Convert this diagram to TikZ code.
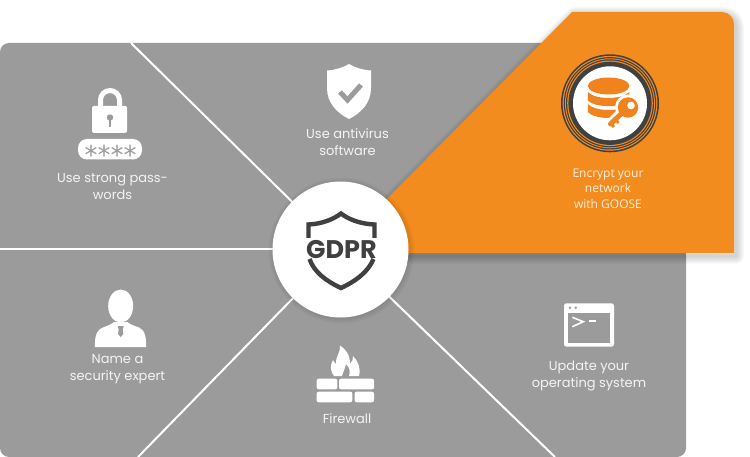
\documentclass[tikz,border=0pt]{standalone}
\usepackage{fontspec}
\setmainfont{Poppins}
\newfontfamily\encfont{Open Sans}
\newfontfamily\starfont{DejaVu Sans}
\definecolor{panelgray}{HTML}{9B9B9B}
\definecolor{goose}{HTML}{F28C1E}
\definecolor{iconorange}{HTML}{F0831E}
\definecolor{ink}{HTML}{404040}
\definecolor{soft}{HTML}{F4F4F4}
\tikzset{
  lbl/.style={text=soft,align=center,inner sep=0pt,font=\fontsize{13}{17}\selectfont},
  sep/.style={draw=white,line width=2pt},
  iconw/.style={fill=white,draw=none},
  icong/.style={fill=panelgray,draw=none},
  icono/.style={fill=iconorange,draw=none},
  keyline/.style={draw=iconorange}
}
\begin{document}
\begin{tikzpicture}[x=1pt,y=-1pt]
\useasboundingbox (0,0) rectangle (750,457);
% panel
\fill[panelgray,rounded corners=9pt] (0,43) -- (686,43) -- (686,457) -- (0,457) -- cycle;
% separators
\coordinate (a1) at (131,43);
\coordinate (a2) at (0,249.5);
\coordinate (a3) at (138,457);
\coordinate (a4) at (555,457);
\node[circle,minimum size=136pt,inner sep=0pt] (hub) at (340.5,249.5) {};
\draw[sep] (a1) -- (hub.center);
\draw[sep] (a2) -- (hub.center);
\draw[sep] (a3) -- (hub.center);
\draw[sep] (a4) -- (hub.center);
% orange shadow
\foreach \w in {2,4,...,16}{
  \draw[black,opacity=.022,line width=\w pt,line join=round,shift={(2,3)}]
    (572,12) -- (722,12) arc[start angle=-90,end angle=0,radius=12] -- (734,253) -- (340,253) -- (340,246) -- cycle;
}
% orange panel
\fill[goose] (572,12) -- (722,12) arc[start angle=-90,end angle=0,radius=12] -- (734,253) -- (340,253) -- (340,246) -- cycle;
% hub shadow
\foreach \r in {69,70,...,73}{
  \fill[black,opacity=.018] (341.5,250.5) circle[radius=\r];
}
\fill[white] (hub.center) circle[radius=68];
% GDPR shield
\draw[ink,line width=4.4pt,line join=miter] (308.5,238) -- (308.5,224.5) .. controls (322,224) and (334,219) .. (341,213.5) .. controls (348,219) and (360,224) .. (374.5,224.5) -- (374.5,238);
\draw[ink,line width=4.4pt] (309.5,259) .. controls (314,272) and (326,281) .. (341,288) .. controls (356,281) and (368,272) .. (373.5,259);
\node[inner sep=0pt,text=ink,font=\fontsize{25.5}{25.5}\selectfont\bfseries] (gdpr) at (341.5,250) {GDPR};
% lock
\draw[white,line width=5pt] (100.5,107) -- (100.5,100) arc[start angle=180,end angle=360,radius=9.5] -- (119.5,107);
\fill[iconw,rounded corners=1.5pt] (92,106) rectangle (127,133);
\fill[icong] (110,117.5) circle[radius=3.2];
\fill[icong] (108.6,118) rectangle (111.4,127);
\fill[iconw,rounded corners=9pt] (78,139) rectangle (142,159.5);
\node[inner sep=0pt,text=panelgray,font=\fontsize{26}{26}\selectfont\starfont] (stars) at (110.5,154.5) {****};
\node[lbl] (t1) at (112.5,186.5) {Use strong pass-\\words};
% shield check
\fill[iconw] (349,64) .. controls (342,68) and (335,70) .. (327,70.5) -- (327,88) .. controls (327,103) and (337,113) .. (349,119) .. controls (361,113) and (371,103) .. (371,88) -- (371,70.5) .. controls (363,70) and (356,68) .. (349,64) -- cycle;
\draw[panelgray,line width=5pt] (340,92) -- (347.5,100) -- (361,85);
\node[lbl] (t2) at (347.5,142.5) {Use antivirus\\software};
% encrypt icon
\fill[ink] (610,103.3) circle[radius=49];
\fill[goose] (610,103.3) circle[radius=47.4];
\fill[ink] (610,103.3) circle[radius=46.2];
\fill[goose] (610,103.3) circle[radius=45];
\fill[ink] (610,103.3) circle[radius=44];
\fill[goose] (610,103.3) circle[radius=42.8];
\fill[ink] (610,103.3) circle[radius=41.6];
\fill[white] (610,103.3) circle[radius=37];
\fill[icono] (608.6,86) ellipse[x radius=20.8,y radius=8.5];
\fill[icono] (587.8,92) .. controls (595,100) and (622,100) .. (629.4,92) -- (629.4,100.5) .. controls (622,108) and (595,108) .. (587.8,100.5) -- cycle;
\fill[icono] (587.8,104) .. controls (595,112) and (622,112) .. (629.4,104) -- (629.4,112) .. controls (622,120) and (595,120) .. (587.8,112) -- cycle;
\fill[white] (628,107.5) circle[radius=13];
\draw[white,line width=11pt,line cap=round] (621,114) -- (611,124);
\fill[icono] (628,107.5) circle[radius=10.2];
\draw[keyline,line width=5pt,line cap=round] (621,114) -- (610.5,124);
\draw[keyline,line width=3pt] (610,122.5) -- (614,127);
\draw[keyline,line width=3pt] (614.5,118.5) -- (618.5,123);
\fill[white] (631,105.5) circle[radius=3.8];
\node[inner sep=0pt,align=center,text=white!85!goose,font=\fontsize{12}{15.3}\selectfont\encfont] (t3) at (608,188.5) {Encrypt your\\network\\with GOOSE};
% person
\fill[iconw] (120.7,306) ellipse[x radius=12.5,y radius=16.5];
\fill[iconw] (95,347) .. controls (94.5,338) and (96,330) .. (103,327.5) .. controls (108,325.5) and (112,324) .. (114,322) -- (127.5,322) .. controls (129.5,324) and (133,325.5) .. (139,327.5) .. controls (145,330) and (146.5,338) .. (146,347) -- cycle;
\fill[icong] (117.7,326) -- (123.7,326) -- (122.7,329.5) -- (123.3,334) -- (120.7,337) -- (118.1,334) -- (118.7,329.5) -- cycle;
\node[lbl] (t4) at (117.5,369.5) {Name a\\security expert};
% firewall
\foreach \xa/\ya/\xb/\yb in {316.7/378.7/337.3/389.3,339/378.7/374/389.3,316.7/391.7/352.3/402.3,354.7/391.7/374/402.3}{
  \fill[iconw,rounded corners=2pt] (\xa,\ya) rectangle (\xb,\yb);
}
\fill[iconw] (340,345.5) .. controls (349,352) and (350,358) .. (350,364) .. controls (352,362) and (353.5,359) .. (353,356) .. controls (358,361) and (361,368) .. (359,376) -- (349,376) .. controls (351,371) and (349,367) .. (346,364) .. controls (345,369) and (343,372) .. (342,376) -- (334,376) .. controls (330,371) and (330,365) .. (333,360) .. controls (334,362) and (335,363) .. (336,364) .. controls (335,357) and (341,352) .. (340,345.5) -- cycle;
\node[lbl] (t5) at (347,419) {Firewall};
% terminal
\fill[iconw,rounded corners=2.5pt] (564,303.3) rectangle (614,346.7);
\fill[icong] (567.7,312.7) rectangle (610.3,342.7);
\fill[icong] (570,307.7) circle[radius=1.4];
\fill[icong] (575.7,307.7) circle[radius=1.4];
\draw[white,line width=1.6pt] (572.3,317.3) -- (583.3,321.7) -- (572.3,326.7);
\draw[white,line width=1.8pt] (589.3,320.7) -- (595.7,320.7);
\node[lbl] (t6) at (589,376) {Update your\\operating system};
\end{tikzpicture}
\end{document}
